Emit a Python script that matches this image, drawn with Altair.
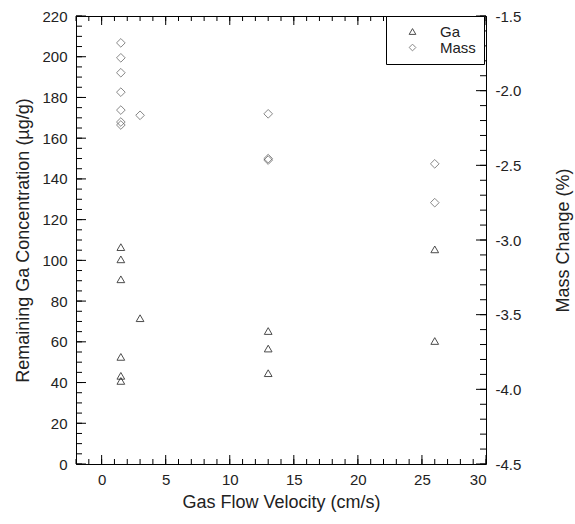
import altair as alt
import pandas as pd

# ---- data ----
ga_velocity = [1.5, 1.5, 1.5, 1.5, 1.5, 1.5, 3, 13, 13, 13, 26, 26]
ga_conc = [106.5, 100.5, 90.7, 52.6, 43.3, 40.8, 71.6, 65.3, 56.7, 44.6, 105.4, 60.4]

mass_velocity = [1.5, 1.5, 1.5, 1.5, 1.5, 1.5, 1.5, 3, 13, 13, 13, 26, 26]
mass_change = [-1.68, -1.78, -1.88, -2.01, -2.13, -2.21, -2.23, -2.165,
               -2.155, -2.455, -2.465, -2.49, -2.75]

series = ["Ga", "Mass"]

x_major = [0, 5, 10, 15, 20, 25, 30]
x_minor = list(range(-2, 31))
y_major = list(range(0, 221, 20))
y_minor = list(range(0, 221, 5))
m_major = [-4.5, -4.0, -3.5, -3.0, -2.5, -2.0, -1.5]
m_minor = [round(-4.5 + 0.1 * i, 1) for i in range(31)]

# ---- layout ----
W, H = 410, 448
FONT = "Liberation Sans"
TXT = "#222222"

ga_df = pd.DataFrame({"v": ga_velocity, "c": ga_conc, "s": "Ga"})
mass_df = pd.DataFrame({"v": mass_velocity, "m": mass_change, "s": "Mass"})

xscale = alt.Scale(domain=[-2, 30], nice=False, zero=False)
yscale = alt.Scale(domain=[0, 220], nice=False, zero=False)
mscale = alt.Scale(domain=[-4.5, -1.5], nice=False, zero=False)
shape_scale = alt.Scale(domain=series, range=["triangle-up", "diamond"])
color_scale = alt.Scale(domain=series, range=["#000000", "#555555"])

legend = alt.Legend(
    title=None, orient="none", legendX=310, legendY=0,
    strokeColor="black", fillColor="white", padding=8,
    symbolOffset=11, labelOffset=20, rowPadding=0,
    symbolSize=45, symbolStrokeWidth=1,
    labelFont=FONT, labelFontSize=15, labelColor=TXT,
)

common_axis = dict(domain=False, ticks=False, grid=False,
                   labelFont=FONT, labelFontSize=15, labelColor=TXT,
                   titleFont=FONT, titleFontSize=18, titleFontWeight="normal",
                   titleColor=TXT)

xaxis = alt.Axis(values=x_major, title="Gas Flow Velocity (cm/s)",
                 labelPadding=8, titleX=W / 2, titleY=38,
                 titleAlign="center", titleBaseline="middle",
                 **common_axis)

ga = alt.Chart(ga_df).mark_point(filled=False, size=60, strokeWidth=1).encode(
    x=alt.X("v:Q", scale=xscale, axis=xaxis),
    y=alt.Y("c:Q", scale=yscale,
            axis=alt.Axis(orient="left", values=y_major,
                          title="Remaining Ga Concentration (µg/g)",
                          labelPadding=9, titleX=-53, titleY=H / 2,
                          titleAngle=270, titleAlign="center",
                          titleBaseline="middle", **common_axis)),
    shape=alt.Shape("s:N", scale=shape_scale, legend=legend),
    stroke=alt.Stroke("s:N", scale=color_scale, legend=legend),
)

mass = alt.Chart(mass_df).mark_point(filled=False, size=75, strokeWidth=1).encode(
    x=alt.X("v:Q", scale=xscale, axis=xaxis),
    y=alt.Y("m:Q", scale=mscale,
            axis=alt.Axis(orient="right", values=m_major,
                          labelExpr="replace(format(datum.value, '.1f'), '\u2212', '-')",
                          title="Mass Change (%)",
                          labelPadding=9, titleX=77, titleY=H / 2,
                          titleAngle=270, titleAlign="center",
                          titleBaseline="middle", **common_axis)),
    shape=alt.Shape("s:N", scale=shape_scale, legend=legend),
    stroke=alt.Stroke("s:N", scale=color_scale, legend=legend),
)


def xticks(vals, y0, y1):
    df = pd.DataFrame({"t": vals})
    return alt.Chart(df).mark_rule(color="black", strokeWidth=1).encode(
        x=alt.X("t:Q", scale=xscale, axis=xaxis),
        y=alt.value(y0), y2=alt.value(y1))


def yticks(vals, scale, x0, x1):
    df = pd.DataFrame({"t": vals})
    return alt.Chart(df).mark_rule(color="black", strokeWidth=1).encode(
        y=alt.Y("t:Q", scale=scale, axis=None),
        x=alt.value(x0), x2=alt.value(x1))


layers = [
    xticks(x_minor, H, H - 5), xticks(x_major, H, H - 9),
    xticks(x_minor, 0, 5), xticks(x_major, 0, 9),
    yticks(y_minor, yscale, 0, 6), yticks(y_major, yscale, 0, 10),
    yticks(m_minor, mscale, W, W - 6), yticks(m_major, mscale, W, W - 10),
    ga, mass,
]

chart = alt.layer(*layers).resolve_scale(y="independent").properties(
    width=W, height=H,
    autosize=alt.AutoSizeParams(type="none"),
    padding={"left": 76, "top": 16, "right": 89, "bottom": 60},
    background="white",
).configure_view(stroke="black", strokeWidth=1)

chart.save("out.html", embed_options={"renderer": "svg", "actions": False})
